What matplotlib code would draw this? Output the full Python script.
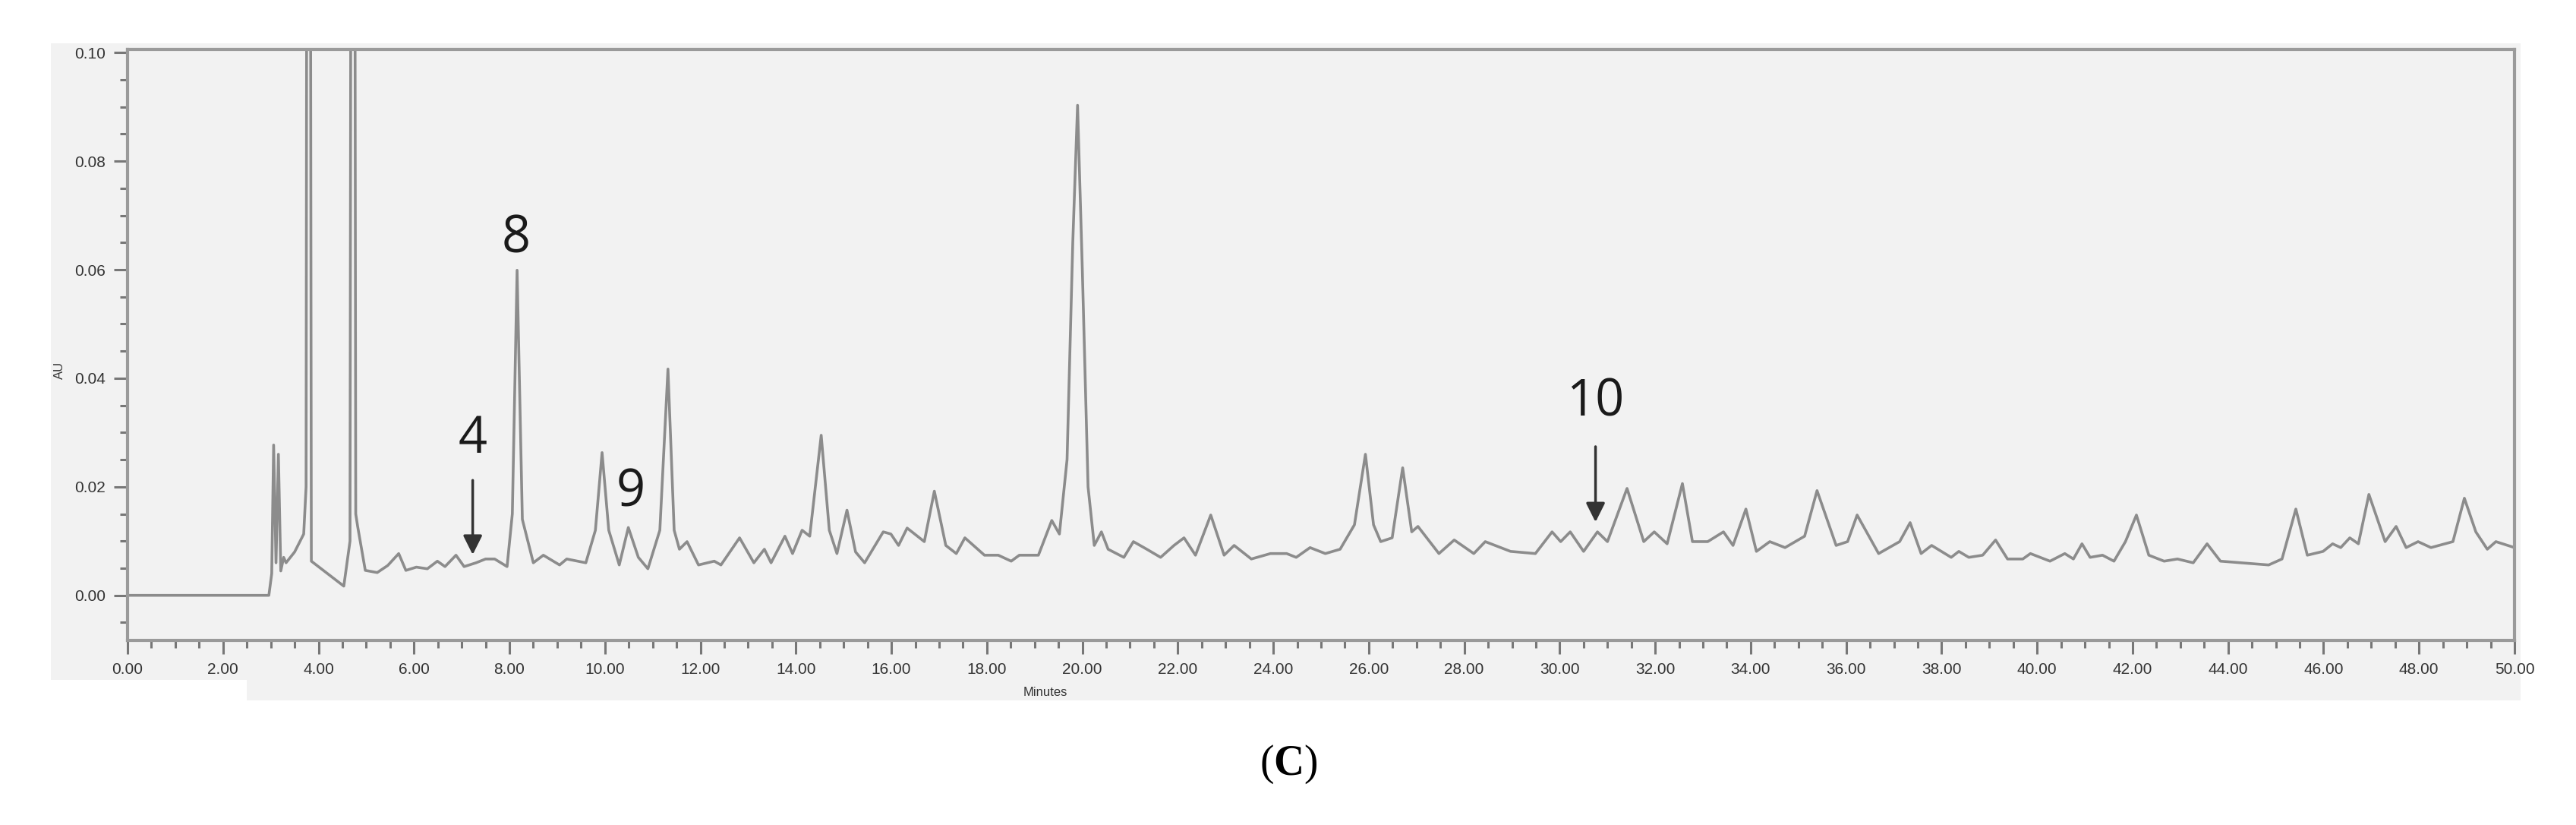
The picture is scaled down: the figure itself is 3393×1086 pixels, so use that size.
import matplotlib
matplotlib.use("Agg")
import matplotlib.pyplot as plt
from matplotlib.patches import Rectangle
from matplotlib.ticker import MultipleLocator, FormatStrFormatter

# retention time (min) and absorbance (AU)
rt_min = [0.0, 2.96, 3.02, 3.06, 3.11, 3.16, 3.21, 3.27, 3.32, 3.5,
          3.69, 3.74, 3.79, 3.85, 4.53, 4.66, 4.72, 4.78, 4.82, 4.98,
          5.23, 5.45, 5.68, 5.83, 6.05, 6.28, 6.49, 6.65, 6.88, 7.05,
          7.3, 7.5, 7.69, 7.95, 8.06, 8.16, 8.27, 8.5, 8.71, 9.05,
          9.2, 9.6, 9.8, 9.94, 10.08, 10.3, 10.49, 10.7, 10.9, 11.15,
          11.32, 11.45, 11.56, 11.72, 11.96, 12.29, 12.43, 12.82, 13.12, 13.34,
          13.48, 13.77, 13.93, 14.13, 14.29, 14.53, 14.7, 14.86, 15.07, 15.25,
          15.44, 15.83, 15.99, 16.15, 16.33, 16.69, 16.9, 17.14, 17.36, 17.54,
          17.95, 18.24, 18.51, 18.68, 19.08, 19.36, 19.52, 19.68, 19.8, 19.9,
          20.0, 20.12, 20.25, 20.4, 20.54, 20.87, 21.07, 21.35, 21.64, 21.92,
          22.13, 22.37, 22.69, 22.97, 23.18, 23.54, 23.94, 24.28, 24.48, 24.77,
          25.09, 25.4, 25.7, 25.93, 26.1, 26.25, 26.49, 26.71, 26.9, 27.03,
          27.47, 27.79, 28.2, 28.44, 28.97, 29.49, 29.84, 30.02, 30.22, 30.5,
          30.79, 31.0, 31.41, 31.76, 31.98, 32.25, 32.57, 32.78, 33.1, 33.43,
          33.63, 33.9, 34.12, 34.4, 34.72, 35.13, 35.39, 35.79, 36.03, 36.23,
          36.68, 37.12, 37.34, 37.57, 37.79, 38.2, 38.36, 38.57, 38.86, 39.13,
          39.38, 39.7, 39.86, 40.27, 40.58, 40.76, 40.94, 41.11, 41.37, 41.61,
          41.85, 42.08, 42.34, 42.66, 42.94, 43.27, 43.56, 43.84, 44.28, 44.85,
          45.13, 45.42, 45.66, 45.99, 46.19, 46.36, 46.55, 46.73, 46.95, 47.29,
          47.52, 47.73, 47.98, 48.25, 48.71, 48.95, 49.19, 49.43, 49.61, 50.0]
absorbance = [0.0, 0.0, 0.004, 0.0277, 0.006, 0.026, 0.0045, 0.007, 0.006, 0.008,
              0.0113, 0.02, 0.4, 0.0063, 0.0017, 0.01, 0.4, 0.015, 0.0127, 0.0046,
              0.0042, 0.0055, 0.0077, 0.0046, 0.0052, 0.0049, 0.0063, 0.0053, 0.0074, 0.0053,
              0.006, 0.0067, 0.0067, 0.0053, 0.015, 0.0599, 0.014, 0.006, 0.0074, 0.0056,
              0.0067, 0.006, 0.012, 0.0263, 0.012, 0.0056, 0.0125, 0.007, 0.0049, 0.012,
              0.0417, 0.012, 0.0085, 0.0099, 0.0056, 0.0063, 0.0056, 0.0106, 0.006, 0.0085,
              0.006, 0.0109, 0.0077, 0.012, 0.0109, 0.0295, 0.012, 0.0077, 0.0157, 0.008,
              0.006, 0.0117, 0.0113, 0.0092, 0.0124, 0.0099, 0.0192, 0.0092, 0.0077, 0.0106,
              0.0074, 0.0074, 0.0063, 0.0074, 0.0074, 0.0138, 0.0113, 0.025, 0.065, 0.0903,
              0.06, 0.02, 0.0092, 0.0117, 0.0085, 0.007, 0.0099, 0.0085, 0.007, 0.0092,
              0.0106, 0.0074, 0.0148, 0.0074, 0.0092, 0.0067, 0.0077, 0.0077, 0.007, 0.0088,
              0.0077, 0.0085, 0.013, 0.026, 0.013, 0.0099, 0.0106, 0.0235, 0.0117, 0.0127,
              0.0077, 0.0102, 0.0077, 0.0099, 0.0081, 0.0077, 0.0117, 0.0099, 0.0117, 0.0081,
              0.0117, 0.0099, 0.0197, 0.0099, 0.0117, 0.0095, 0.0206, 0.0099, 0.0099, 0.0117,
              0.0092, 0.0159, 0.0081, 0.0099, 0.0088, 0.0109, 0.0193, 0.0092, 0.0099, 0.0148,
              0.0077, 0.0099, 0.0134, 0.0077, 0.0092, 0.007, 0.0081, 0.007, 0.0074, 0.0102,
              0.0067, 0.0067, 0.0077, 0.0063, 0.0077, 0.0067, 0.0095, 0.007, 0.0074, 0.0063,
              0.0099, 0.0148, 0.0074, 0.0063, 0.0067, 0.006, 0.0095, 0.0063, 0.006, 0.0056,
              0.0067, 0.0159, 0.0074, 0.0081, 0.0095, 0.0088, 0.0106, 0.0095, 0.0186, 0.0099,
              0.0127, 0.0088, 0.0099, 0.0088, 0.0099, 0.0179, 0.0117, 0.0085, 0.0099, 0.0088]

# peak labels: text, x, text y, arrow start y, arrow tip y (None = no arrow)
peak_names = ["4", "8", "9", "10"]
peak_x = [7.23, 8.14, 10.54, 30.75]
peak_text_y = [0.0288, 0.0656, 0.0189, 0.0355]
arrow_from = [0.0212, None, None, 0.0274]
arrow_to = [0.0075, None, None, 0.0135]

plt.rcParams["mathtext.fontset"] = "custom"
plt.rcParams["mathtext.rm"] = "Liberation Serif"
plt.rcParams["mathtext.bf"] = "Liberation Serif:bold"

W, H = 3393, 1086
fig = plt.figure(figsize=(W / 100, H / 100), dpi=100)
fig.patch.set_facecolor("white")

# grey screenshot panel behind the plot
panel = "#f2f2f2"
fig.patches.append(Rectangle((67 / W, 1 - 895 / H), (3320 - 67) / W, (895 - 57) / H,
                             transform=fig.transFigure, facecolor=panel, edgecolor="none", zorder=-5))
fig.patches.append(Rectangle((325 / W, 1 - 922 / H), (3320 - 325) / W, 28 / H,
                             transform=fig.transFigure, facecolor=panel, edgecolor="none", zorder=-5))

ax = fig.add_axes([168 / W, 1 - 843 / H, (3312 - 168) / W, (843 - 65) / H])
ax.set_facecolor(panel)

ax.plot(rt_min, absorbance, color="#8c8c8c", lw=2.6, solid_joinstyle="round")

ax.set_xlim(0, 50)
ax.set_ylim(-0.0083, 0.1006)

tick_font = ["Liberation Sans", "DejaVu Sans"]
ax.xaxis.set_major_locator(MultipleLocator(2))
ax.xaxis.set_minor_locator(MultipleLocator(0.5))
ax.yaxis.set_major_locator(MultipleLocator(0.02))
ax.yaxis.set_minor_locator(MultipleLocator(0.005))
ax.xaxis.set_major_formatter(FormatStrFormatter("%.2f"))
ax.yaxis.set_major_formatter(FormatStrFormatter("%.2f"))
ax.tick_params(which="major", length=13, width=2.2, color="#777777", pad=8,
               labelsize=15, labelcolor="#333333")
ax.tick_params(which="minor", length=7, width=2.2, color="#777777")
for lab in ax.get_xticklabels() + ax.get_yticklabels():
    lab.set_family(tick_font)

for s in ax.spines.values():
    s.set_color("#9a9a9a")
    s.set_linewidth(3)

fig.text(1377 / W, 1 - 912 / H, "Minutes", ha="center", va="center",
         fontsize=12, color="#333333", family=tick_font)
fig.text(78 / W, 1 - 487 / H, "AU", ha="center", va="center", rotation=90,
         fontsize=12, color="#333333", family=tick_font)

for name, x, ty, a0, a1 in zip(peak_names, peak_x, peak_text_y, arrow_from, arrow_to):
    ax.text(x, ty, name, ha="center", va="center", fontsize=48,
            color="#1a1a1a", family=["Open Sans", "DejaVu Sans"])
    if a0 is not None:
        ax.annotate("", xy=(x, a1), xytext=(x, a0),
                    arrowprops=dict(arrowstyle="-|>", color="#333333", lw=2.5,
                                    mutation_scale=38, shrinkA=0, shrinkB=0))

fig.text(1697 / W, 1 - 1006 / H, r"($\mathbf{C}$)", ha="center", va="center",
         fontsize=40, family=["Liberation Serif", "DejaVu Serif"])

fig.savefig("out.png", dpi=100, facecolor="white")
